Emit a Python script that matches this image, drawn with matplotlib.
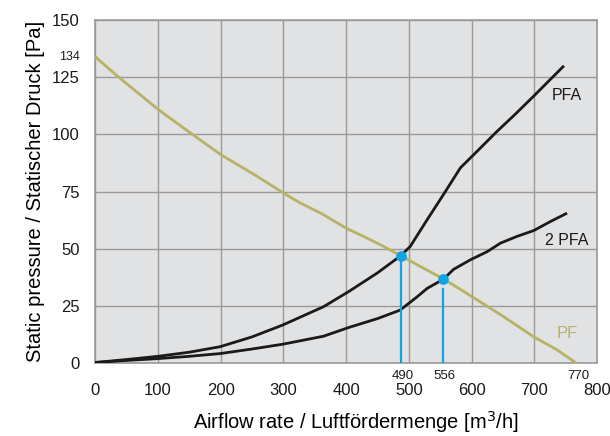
import numpy as np
import matplotlib.pyplot as plt

plt.rcParams['font.family'] = ['Liberation Sans', 'DejaVu Sans']

# PF curve (olive)
pf_x = [0, 35, 100, 150, 200, 258, 300, 327, 360, 400, 433, 460, 487, 520, 556, 601, 650, 699, 735, 767]
pf_y = [134, 125.6, 111, 101, 91.2, 81.7, 74.4, 70, 65.5, 59, 54.7, 51, 47, 42, 36.7, 29, 20.5, 11.5, 6, 0]

# PFA curve
pfa_x = [0, 50, 100, 150, 199, 250, 299, 364, 404, 450, 487, 502, 529, 558, 582, 610, 638, 670, 699, 747]
pfa_y = [0.3, 1.6, 3, 4.8, 7.2, 11.5, 16.7, 24.7, 31.3, 39.5, 47, 51, 62.7, 75, 85.4, 93, 100.7, 109, 116.8, 130]

# 2 PFA curve
pfa2_x = [0, 50, 100, 150, 199, 250, 299, 327, 364, 404, 450, 486, 513, 529, 555, 571, 598, 625, 646, 672, 699, 726, 752]
pfa2_y = [0.3, 1.2, 2, 3, 4.2, 6.2, 8.3, 9.8, 11.8, 15.6, 19.5, 23.2, 29, 32.7, 36.7, 41, 45.2, 48.8, 52.5, 55.4, 58, 62, 65.6]

# operating points
op_x = [487, 555]
op_y = [47, 36.7]
line_top = [47, 32.5]

fig = plt.figure(figsize=(6.1, 4.36), dpi=100)
ax = fig.add_axes([0.156, 0.167, 0.823, 0.787])
ax.set_facecolor('#e1e2e3')

ax.plot(pf_x, pf_y, color='#b7b264', lw=2.0, zorder=3, solid_capstyle='butt')
ax.plot(pfa_x, pfa_y, color='#1a1a1a', lw=2.0, zorder=3, solid_capstyle='butt')
ax.plot(pfa2_x, pfa2_y, color='#1a1a1a', lw=2.0, zorder=3, solid_capstyle='butt')

for x, y in zip(op_x, line_top):
    ax.plot([x, x], [0, y], color='#12a4e2', lw=1.6, zorder=4)
ax.scatter(op_x, op_y, s=60, color='#12a4e2', zorder=5, linewidths=0)

ax.set_xlim(0, 800)
ax.set_ylim(0, 150)
ax.set_xticks(np.arange(0, 801, 100))
ax.set_yticks(np.arange(0, 151, 25))
ax.grid(True, color='#9a9a9a', lw=1)
ax.set_axisbelow(True)
for s in ax.spines.values():
    s.set_color('#9a9a9a')
    s.set_linewidth(1.2)
ax.tick_params(axis='both', length=0, labelsize=12, colors='#1a1a1a')
ax.tick_params(axis='x', pad=14)
ax.tick_params(axis='y', pad=11)

ax.text(-24, 134, '134', fontsize=9, ha='right', va='center', color='#1a1a1a', clip_on=False)
for v in [490, 556, 770]:
    ax.text(v, -3, str(v), fontsize=9.5, ha='center', va='top', color='#1a1a1a', clip_on=False)

ax.text(752, 117, 'PFA', fontsize=11.5, ha='center', va='center', color='#1a1a1a')
ax.text(752, 53.5, '2 PFA', fontsize=11.5, ha='center', va='center', color='#1a1a1a')
ax.text(752, 13, 'PF', fontsize=12, ha='center', va='center', color='#b7b264')

ax.set_xlabel('Airflow rate / Luftfördermenge [m$^3$/h]', fontsize=14.5, labelpad=5)
ax.xaxis.set_label_coords(0.52, -0.135)
ax.set_ylabel('Static pressure / Statischer Druck [Pa]', fontsize=14.5, labelpad=5)

plt.savefig('out.png', dpi=100)
